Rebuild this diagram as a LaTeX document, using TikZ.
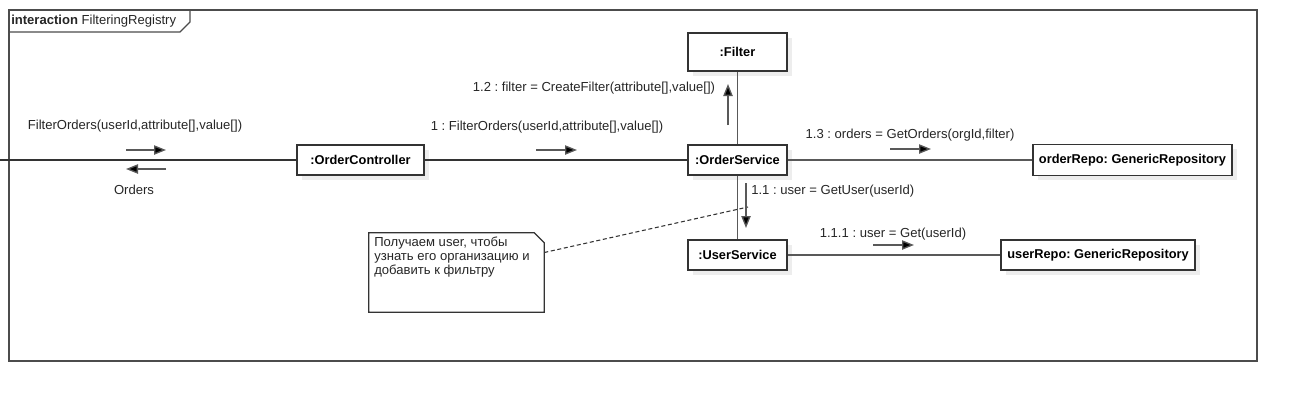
\documentclass[tikz,border=0pt]{standalone}
\usepackage{fontspec}
\setmainfont{Liberation Sans}
\usetikzlibrary{arrows.meta,shadows}
\frenchspacing
\begin{document}
\begin{tikzpicture}[x=0.75pt,y=-0.75pt,
  every node/.style={font=\fontsize{9.8}{12}\selectfont},
  obj/.style={draw=black!80,line width=0.9pt,fill=white,inner sep=0pt,font=\fontsize{9.6}{12}\selectfont\bfseries,
    drop shadow={shadow xshift=3.5pt,shadow yshift=-3.5pt,fill=black!7,opacity=1}},
  link/.style={draw=black!65,line width=1pt},
  mainlink/.style={draw=black!80,line width=1.4pt},
  msg/.style={draw=black!65,line width=1pt,-{Triangle[length=9pt,width=7pt,fill=black]}},
  lbl/.style={inner sep=0pt,text=black!85}]
\useasboundingbox (0,0) rectangle (1297,401);
% frame
\draw[draw=black!70,line width=1pt] (9,10) rectangle (1257,361);
\draw[draw=black!70,line width=1pt] (9,32) -- (180,32) -- (190,22) -- (190,10);
\node[lbl,anchor=west] (title) at (11,21) {\textbf{interaction} FilteringRegistry};
% objects
\node[obj,minimum width=74.25pt,minimum height=28.5pt] (filter) at (737.5,52) {:Filter};
\node[obj,minimum width=95.25pt,minimum height=22.5pt] (ctrl) at (360.5,160) {:OrderController};
\node[obj,minimum width=74.25pt,minimum height=22.5pt] (osvc) at (737.5,160) {:OrderService};
\node[obj,minimum width=149.25pt,minimum height=23.25pt] (orepo) at (1132.5,160) {orderRepo: GenericRepository};
\node[obj,minimum width=74.25pt,minimum height=22.5pt] (usvc) at (737.5,255) {:UserService};
\node[obj,minimum width=145.5pt,minimum height=22.5pt] (urepo) at (1098,255) {userRepo: GenericRepository};
% note
\node[inner sep=0pt,minimum width=131.25pt,minimum height=59.25pt] (note) at (456.5,272.5) {};
\draw[draw=black!80,line width=0.9pt,fill=white] (note.north west) -- ([xshift=-7.5pt]note.north east) -- ([yshift=-7.5pt]note.north east) -- (note.south east) -- (note.south west) -- cycle;
\node[lbl,anchor=north west,align=left,font=\fontsize{9.8}{10.5}\selectfont] (notetext) at (374,237) {Получаем user, чтобы\\узнать его организацию и\\добавить к фильтру};
% connectors
\coordinate (entry) at (0,160);
\draw[mainlink] (entry) -- (ctrl.west);
\draw[mainlink] (ctrl.east) -- (osvc.west);
\draw[link] (osvc.east) -- (orepo.west);
\draw[link] (osvc.north) -- (filter.south);
\draw[link] (osvc.south) -- (usvc.north);
\draw[link] (usvc.east) -- (urepo.west);
\coordinate (noteend) at (748,207);
\draw[draw=black!80,line width=0.8pt,dashed,dash pattern=on 3pt off 2pt] ([yshift=15pt]note.east) -- (noteend);
% messages
\coordinate (m0a) at (126,150); \coordinate (m0b) at (166,150);
\draw[msg] (m0a) -- (m0b);
\coordinate (r0a) at (166,169); \coordinate (r0b) at (126,169);
\draw[msg] (r0a) -- (r0b);
\node[lbl] (m0l) at (135,126) {FilterOrders(userId,attribute[],value[])};
\node[lbl] (r0l) at (134,190) {Orders};
\coordinate (m1a) at (536,150); \coordinate (m1b) at (577,150);
\draw[msg] (m1a) -- (m1b);
\node[lbl] (m1l) at (547,127) {1 : FilterOrders(userId,attribute[],value[])};
\coordinate (m12a) at (728,125); \coordinate (m12b) at (728,84);
\draw[msg] (m12a) -- (m12b);
\node[lbl] (m12l) at (594,88) {1.2 : filter = CreateFilter(attribute[],value[])};
\coordinate (m13a) at (890,149); \coordinate (m13b) at (931,149);
\draw[msg] (m13a) -- (m13b);
\node[lbl] (m13l) at (910,135) {1.3 : orders = GetOrders(orgId,filter)};
\coordinate (m11a) at (746,183); \coordinate (m11b) at (746,228);
\draw[msg] (m11a) -- (m11b);
\node[lbl,anchor=west] (m11l) at (751,191) {1.1 : user = GetUser(userId)};
\coordinate (m111a) at (873,245); \coordinate (m111b) at (914,245);
\draw[msg] (m111a) -- (m111b);
\node[lbl] (m111l) at (893,234) {1.1.1 : user = Get(userId)};
\end{tikzpicture}
\end{document}
